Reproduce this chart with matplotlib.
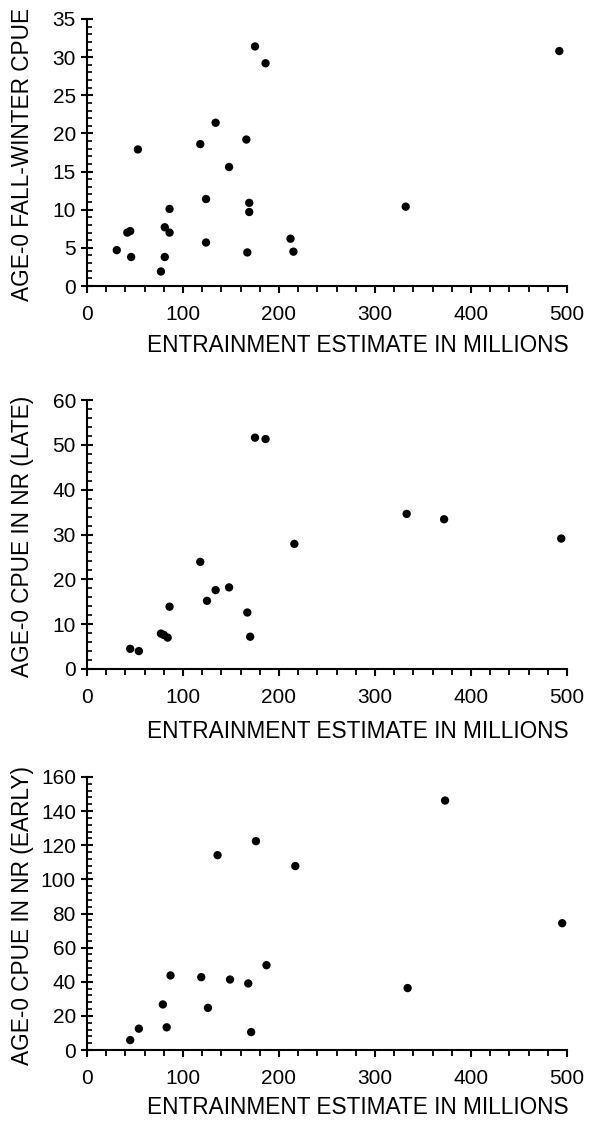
import matplotlib
matplotlib.use("Agg")
import matplotlib.pyplot as plt
from matplotlib.ticker import MultipleLocator

plt.rcParams['font.family'] = ['Liberation Sans', 'DejaVu Sans']

# Panel 1: fall-winter CPUE
x1 = [31, 42, 45, 46, 53, 77, 81, 81, 86, 86, 118, 124, 124, 134, 148, 166, 169, 169, 167, 175, 186, 212, 215, 332, 492]
y1 = [4.7, 7.0, 7.2, 3.8, 17.9, 1.9, 7.7, 3.8, 7.0, 10.1, 18.6, 11.4, 5.7, 21.4, 15.6, 19.2, 10.9, 9.7, 4.4, 31.4, 29.2, 6.2, 4.5, 10.4, 30.8]

# Panel 2: CPUE in NR (late)
x2 = [45, 54, 77, 80, 84, 86, 118, 125, 134, 148, 167, 170, 175, 186, 216, 333, 372, 494]
y2 = [4.5, 4.0, 7.9, 7.6, 7.0, 13.9, 23.9, 15.2, 17.6, 18.2, 12.6, 7.2, 51.6, 51.3, 27.9, 34.6, 33.4, 29.1]

# Panel 3: CPUE in NR (early)
x3 = [45, 54, 79, 83, 87, 119, 126, 136, 149, 168, 171, 176, 187, 217, 334, 373, 495]
y3 = [5.8, 12.5, 26.7, 13.3, 43.7, 42.7, 24.7, 114.2, 41.3, 39.0, 10.5, 122.4, 49.7, 107.8, 36.3, 146.2, 74.3]

ylabels = ["AGE-0 FALL-WINTER CPUE", "AGE-0 CPUE IN NR (LATE)", "AGE-0 CPUE IN NR (EARLY)"]
xlabel = "ENTRAINMENT ESTIMATE IN MILLIONS"
ylims = [35, 60, 160]
ymajor = [5, 10, 20]
yminor = [1, 2, 4]

W, H = 593, 1126
fig = plt.figure(figsize=(W / 100, H / 100), dpi=100)

# pixel boxes: (left, right, top, bottom)
boxes = [(87, 567, 19, 286), (87, 567, 400, 669), (87, 567, 777, 1050)]
xlabel_y = [345, 731, 1108]

data = [(x1, y1), (x2, y2), (x3, y3)]
for i, ((xs, ys), (l, r, t, b)) in enumerate(zip(data, boxes)):
    ax = fig.add_axes([l / W, 1 - b / H, (r - l) / W, (b - t) / H])
    ax.scatter(xs, ys, s=36, color='black', edgecolors='none', clip_on=False, zorder=3)
    ax.set_xlim(0, 500)
    ax.set_ylim(0, ylims[i])
    ax.spines['top'].set_visible(False)
    ax.spines['right'].set_visible(False)
    ax.spines['left'].set_linewidth(1.5)
    ax.spines['bottom'].set_linewidth(1.5)
    ax.xaxis.set_major_locator(MultipleLocator(100))
    ax.xaxis.set_minor_locator(MultipleLocator(20))
    ax.yaxis.set_major_locator(MultipleLocator(ymajor[i]))
    ax.yaxis.set_minor_locator(MultipleLocator(yminor[i]))
    ax.tick_params(axis='x', which='major', direction='out', length=5, width=1.5,
                   labelsize=15, pad=9)
    ax.tick_params(axis='x', which='minor', direction='out', length=4, width=1.3)
    ax.tick_params(axis='y', which='major', direction='inout', length=8, width=1.5,
                   labelsize=15, pad=4)
    ax.tick_params(axis='y', which='minor', direction='in', length=3.5, width=1.2)
    fig.text(23 / W, 1 - ((t + b) / 2 + 2) / H, ylabels[i], rotation=90,
             ha='center', va='center', fontsize=16.3)
    fig.text(358 / W, 1 - xlabel_y[i] / H, xlabel, ha='center', va='center',
             fontsize=16.3)

fig.savefig("out.png", dpi=100)
